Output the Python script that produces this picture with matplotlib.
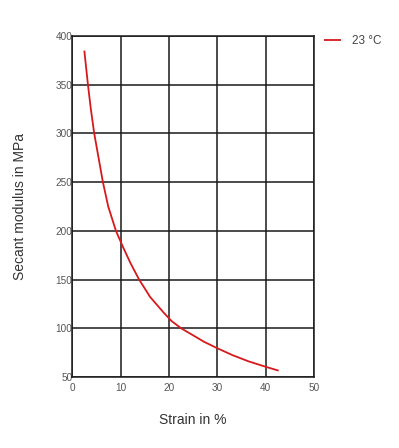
import matplotlib
matplotlib.use("Agg")
from matplotlib import pyplot as plt

# values
strain = [2.45, 3.2, 3.8, 4.5, 5.4, 6.3, 7.4, 9.0, 10.5, 12.0, 13.8, 16.1,
          18.9, 20.5, 22.5, 27.3, 30.0, 33.1, 36.5, 40.0, 42.7]
modulus = [385, 350, 325, 300, 275, 250, 225, 200, 183, 167, 150, 132,
           116, 107.5, 100, 86, 79.5, 72.5, 66, 60.5, 56.5]
series_label = "23 °C"

x_ticks = [0, 10, 20, 30, 40, 50]
y_ticks = [50, 100, 150, 200, 250, 300, 350, 400]

plt.rcParams['font.family'] = ['Liberation Sans', 'DejaVu Sans']

fig = plt.figure(figsize=(3.99, 4.48), dpi=100)
ax = fig.add_axes([0.1817, 0.1585, 0.605, 0.7611])

ax.plot(strain, modulus, color="#d7191c", lw=1.3, label=series_label,
        solid_capstyle="butt")

ax.set_xlim(0, 50)
ax.set_ylim(50, 400)
ax.set_xticks(x_ticks)
ax.set_yticks(y_ticks)
ax.grid(True, color="#1a1a1a", lw=1.1)
ax.set_axisbelow(True)
for s in ax.spines.values():
    s.set_color("#1a1a1a")
    s.set_linewidth(1.1)

ax.tick_params(axis="both", length=0, labelsize=7.2, labelcolor="#555555")
ax.tick_params(axis="y", pad=0)
ax.tick_params(axis="x", pad=4)

ax.set_xlabel("Strain in %", fontsize=10, color="#333333")
ax.set_ylabel("Secant modulus in MPa", fontsize=10, color="#333333")
ax.xaxis.set_label_coords(0.5, -0.105)
ax.yaxis.set_label_coords(-0.19, 0.5)

ax.legend(loc="center left", bbox_to_anchor=(0.812, 0.909),
          bbox_transform=fig.transFigure, frameon=False, fontsize=8.5,
          handlelength=1.45, handletextpad=0.95, borderpad=0,
          borderaxespad=0, labelcolor="#444444")

fig.savefig("out.png", dpi=100)
